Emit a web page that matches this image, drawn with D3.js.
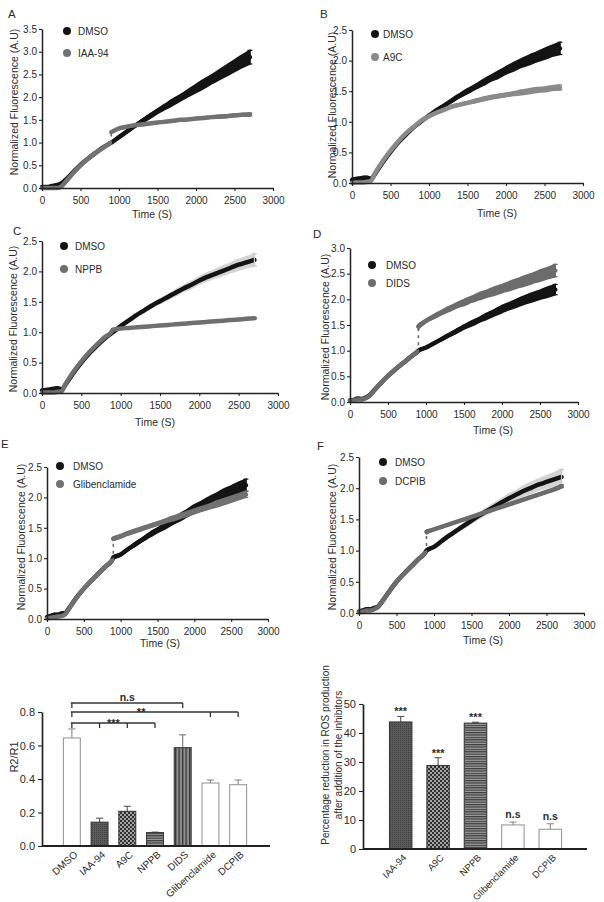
<!DOCTYPE html>
<html><head><meta charset="utf-8">
<script src="https://cdn.jsdelivr.net/npm/d3@7"></script>
<style>
body{margin:0;background:#fff;}
svg text{font-family:"Liberation Sans",Arial,sans-serif;fill:#2b2b2b;}
</style></head><body>
<svg id="fig" width="604" height="902"></svg>
<script>
// ---------- DATA ----------
const timeS = [0,50,100,150,200,250,300,400,500,600,700,800,880,900,1000,1100,1200,1300,1400,1500,1600,1700,1800,1900,2000,2100,2200,2300,2400,2500,2600,2700];
const additionTime = 900;
const xTickValues = [0,500,1000,1500,2000,2500,3000];

// Panel A
const dmsoA    = [0.02,0.02,0.03,0.05,0.07,0.10,0.17,0.34,0.51,0.65,0.78,0.90,0.98,1.00,1.12,1.24,1.36,1.47,1.58,1.69,1.79,1.89,1.99,2.09,2.19,2.29,2.39,2.49,2.59,2.69,2.79,2.88];
const dmsoErrA = [0.01,0.01,0.01,0.01,0.01,0.01,0.01,0.01,0.01,0.01,0.01,0.01,0.01,0.01,0.02,0.03,0.03,0.04,0.05,0.05,0.06,0.07,0.07,0.08,0.09,0.10,0.10,0.11,0.12,0.13,0.14,0.15];
const iaaA     = [0.00,0.00,0.00,0.00,0.00,0.03,0.12,0.32,0.50,0.65,0.78,0.89,0.98,1.23,1.31,1.35,1.38,1.40,1.42,1.44,1.46,1.48,1.50,1.51,1.53,1.54,1.56,1.57,1.58,1.60,1.61,1.62];
const iaaErrA  = [0.01,0.01,0.01,0.01,0.01,0.01,0.01,0.01,0.01,0.01,0.01,0.01,0.01,0.02,0.02,0.02,0.02,0.02,0.02,0.02,0.02,0.02,0.02,0.02,0.02,0.02,0.02,0.03,0.03,0.03,0.03,0.03];
// Panel B
const dmsoB    = [0.05,0.06,0.07,0.08,0.08,0.07,0.15,0.34,0.51,0.66,0.79,0.91,0.99,1.01,1.10,1.19,1.27,1.35,1.43,1.50,1.57,1.64,1.71,1.77,1.84,1.90,1.96,2.01,2.06,2.11,2.16,2.20];
const dmsoErrB = [0.03,0.03,0.03,0.03,0.03,0.02,0.01,0.01,0.01,0.01,0.01,0.01,0.01,0.01,0.01,0.02,0.02,0.03,0.03,0.04,0.04,0.05,0.05,0.06,0.06,0.07,0.07,0.08,0.08,0.09,0.09,0.10];
const a9cB     = [0.00,0.01,0.01,0.01,0.02,0.04,0.16,0.36,0.53,0.68,0.81,0.92,1.00,1.02,1.09,1.15,1.20,1.25,1.28,1.31,1.34,1.37,1.40,1.42,1.44,1.46,1.48,1.50,1.52,1.53,1.55,1.56];
const a9cErrB  = [0.01,0.01,0.01,0.01,0.01,0.01,0.01,0.01,0.01,0.01,0.01,0.01,0.01,0.01,0.01,0.02,0.02,0.02,0.02,0.02,0.03,0.03,0.03,0.03,0.03,0.03,0.04,0.04,0.04,0.04,0.04,0.04];
// Panel C
const dmsoC    = [0.04,0.05,0.06,0.07,0.08,0.06,0.14,0.33,0.50,0.65,0.78,0.90,0.98,1.00,1.10,1.19,1.28,1.36,1.44,1.51,1.58,1.65,1.72,1.78,1.85,1.91,1.96,2.01,2.06,2.11,2.15,2.19];
const dmsoErrC = [0.02,0.02,0.02,0.02,0.02,0.01,0.01,0.01,0.01,0.01,0.01,0.01,0.01,0.01,0.01,0.02,0.02,0.03,0.03,0.04,0.04,0.05,0.05,0.06,0.06,0.07,0.07,0.08,0.08,0.09,0.09,0.10];
const nppbC    = [0.01,0.01,0.01,0.01,0.02,0.03,0.15,0.35,0.52,0.67,0.80,0.92,1.00,1.04,1.06,1.07,1.08,1.09,1.10,1.11,1.12,1.13,1.14,1.15,1.16,1.17,1.18,1.19,1.20,1.21,1.22,1.23];
const nppbErrC = [0.01,0.01,0.01,0.01,0.01,0.01,0.01,0.01,0.01,0.01,0.01,0.01,0.01,0.01,0.01,0.01,0.01,0.01,0.01,0.01,0.01,0.01,0.01,0.01,0.01,0.01,0.01,0.01,0.01,0.01,0.01,0.01];
// Panel D
const dmsoD    = [0.03,0.04,0.07,0.06,0.08,0.12,0.20,0.36,0.51,0.64,0.76,0.88,0.97,1.00,1.06,1.14,1.22,1.30,1.38,1.46,1.53,1.60,1.67,1.74,1.81,1.87,1.93,1.99,2.04,2.09,2.14,2.19];
const dmsoErrD = [0.02,0.02,0.02,0.02,0.02,0.01,0.01,0.01,0.01,0.01,0.01,0.01,0.01,0.02,0.02,0.02,0.03,0.03,0.04,0.04,0.05,0.05,0.06,0.06,0.07,0.07,0.08,0.08,0.09,0.09,0.10,0.10];
const didsD    = [0.02,0.03,0.05,0.05,0.07,0.11,0.19,0.36,0.51,0.64,0.76,0.88,0.97,1.47,1.58,1.66,1.74,1.81,1.88,1.94,2.00,2.06,2.11,2.16,2.21,2.26,2.31,2.36,2.41,2.46,2.51,2.56];
const didsErrD = [0.01,0.01,0.01,0.01,0.01,0.01,0.01,0.01,0.01,0.01,0.01,0.01,0.01,0.05,0.03,0.04,0.04,0.05,0.05,0.06,0.06,0.07,0.07,0.08,0.08,0.09,0.09,0.10,0.10,0.11,0.11,0.12];
// Panel E
const dmsoE    = [0.03,0.05,0.07,0.07,0.09,0.10,0.18,0.35,0.50,0.63,0.75,0.87,0.96,1.01,1.06,1.15,1.23,1.31,1.39,1.46,1.53,1.60,1.67,1.74,1.81,1.87,1.93,1.99,2.05,2.10,2.15,2.20];
const dmsoErrE = [0.02,0.02,0.02,0.02,0.02,0.01,0.01,0.01,0.01,0.01,0.01,0.01,0.01,0.03,0.02,0.02,0.03,0.03,0.04,0.04,0.05,0.05,0.06,0.06,0.07,0.07,0.08,0.08,0.09,0.09,0.10,0.10];
const glibE    = [0.01,0.02,0.03,0.04,0.05,0.08,0.17,0.35,0.50,0.63,0.75,0.87,0.96,1.32,1.36,1.41,1.45,1.49,1.53,1.57,1.61,1.65,1.69,1.73,1.77,1.81,1.85,1.89,1.93,1.97,2.01,2.05];
const glibErrE = [0.01,0.01,0.01,0.01,0.01,0.01,0.01,0.01,0.01,0.01,0.01,0.01,0.01,0.03,0.03,0.03,0.03,0.03,0.03,0.03,0.03,0.04,0.04,0.04,0.04,0.04,0.04,0.05,0.05,0.05,0.05,0.05];
// Panel F
const dmsoF    = [0.02,0.04,0.06,0.06,0.08,0.10,0.17,0.34,0.50,0.63,0.75,0.87,0.96,1.00,1.06,1.15,1.24,1.32,1.40,1.48,1.56,1.63,1.70,1.77,1.84,1.90,1.96,2.01,2.06,2.10,2.14,2.18];
const dmsoErrF = [0.02,0.02,0.02,0.02,0.02,0.01,0.01,0.01,0.01,0.01,0.01,0.01,0.01,0.02,0.02,0.02,0.03,0.03,0.04,0.04,0.05,0.05,0.06,0.06,0.07,0.07,0.08,0.09,0.09,0.10,0.11,0.12];
const dcpibF   = [0.01,0.02,0.04,0.04,0.06,0.09,0.17,0.34,0.50,0.63,0.75,0.87,0.96,1.30,1.34,1.38,1.42,1.46,1.50,1.54,1.58,1.62,1.66,1.70,1.74,1.78,1.82,1.86,1.90,1.94,1.98,2.03];
const dcpibErrF= [0.01,0.01,0.01,0.01,0.01,0.01,0.01,0.01,0.01,0.01,0.01,0.01,0.01,0.03,0.01,0.01,0.01,0.01,0.01,0.01,0.01,0.01,0.01,0.02,0.02,0.02,0.02,0.02,0.02,0.02,0.02,0.02];

const panelLetters  = ['A','B','C','D','E','F'];
const inhibitorNames= ['IAA-94','A9C','NPPB','DIDS','Glibenclamide','DCPIB'];
const yMaxValues    = [3.5,2.5,2.5,3.0,2.5,2.5];

// Bar chart: R2/R1
const ratioCats = ['DMSO','IAA-94','A9C','NPPB','DIDS','Glibenclamide','DCPIB'];
const ratioMean = [0.645,0.142,0.207,0.080,0.587,0.376,0.366];
const ratioSem  = [0.054,0.024,0.030,0.003,0.077,0.018,0.028];
const ratioTicks= [0.0,0.2,0.4,0.6,0.8];
const ratioComparisons = [
  {label:'n.s', from:'DMSO', to:['DIDS'], labelBetween:['DMSO','DIDS']},
  {label:'**',  from:'DMSO', to:['Glibenclamide','DCPIB'], labelBetween:['DMSO','Glibenclamide']},
  {label:'***', from:'DMSO', to:['IAA-94','A9C','NPPB'], labelBetween:['DMSO','NPPB']}
];

// Bar chart: % reduction
const reductionCats = ['IAA-94','A9C','NPPB','Glibenclamide','DCPIB'];
const reductionMean = [43.8,28.8,43.4,8.3,6.8];
const reductionSem  = [1.9,2.7,0.3,1.0,1.9];
const reductionSig  = ['***','***','***','n.s','n.s'];
const reductionTicks= [0,10,20,30,40,50];

// ---------- STYLE / LAYOUT ----------
const svg = d3.select('#fig');
const defs = svg.append('defs');
function pattern(id,w,h,bg,rects){
  const p = defs.append('pattern').attr('id',id).attr('width',w).attr('height',h).attr('patternUnits','userSpaceOnUse');
  p.append('rect').attr('width',w).attr('height',h).attr('fill',bg);
  rects.forEach(r=>p.append('rect').attr('x',r[0]).attr('y',r[1]).attr('width',r[2]).attr('height',r[3]).attr('fill',r[4]));
}
pattern('pIAA',2,2,'#5c5c5c',[[0,0,1,1,'#3e3e3e']]);
pattern('pA9C',4,4,'#a4a4a4',[[0,0,2,2,'#2f2f2f'],[2,2,2,2,'#2f2f2f']]);
pattern('pNPPB',3,2.4,'#a0a0a0',[[0,0,3,1.2,'#3a3a3a']]);
pattern('pDIDS',3.5,4,'#909090',[[0,0,1.3,4,'#333']]);
const barStyle = {
  'DMSO':{fill:'#fff',stroke:'#9a9a9a',err:'#8a8a8a'},
  'IAA-94':{fill:'url(#pIAA)',stroke:'#3a3a3a',err:'#555'},
  'A9C':{fill:'url(#pA9C)',stroke:'#3a3a3a',err:'#555'},
  'NPPB':{fill:'url(#pNPPB)',stroke:'#3a3a3a',err:'#555'},
  'DIDS':{fill:'url(#pDIDS)',stroke:'#3a3a3a',err:'#777'},
  'Glibenclamide':{fill:'#fff',stroke:'#9a9a9a',err:'#8a8a8a'},
  'DCPIB':{fill:'#fff',stroke:'#9a9a9a',err:'#8a8a8a'}
};

const series = [
  [dmsoA,dmsoErrA,iaaA,iaaErrA],
  [dmsoB,dmsoErrB,a9cB,a9cErrB],
  [dmsoC,dmsoErrC,nppbC,nppbErrC],
  [dmsoD,dmsoErrD,didsD,didsErrD],
  [dmsoE,dmsoErrE,glibE,glibErrE],
  [dmsoF,dmsoErrF,dcpibF,dcpibErrF]
];
const layouts = [
  {x0:42,x1:273,y0:188,yT:29, letter:[8,18],   leg:[67,31,53],  legTx:78,  yl:[14,102], xl:[152,218], inhCol:'#727272', band:'solid', jump:true},
  {x0:352,x1:583,y0:183,yT:30,letter:[320,18], leg:[375,34,57], legTx:383, yl:[332,105], xl:[497,217], inhCol:'#8a8a8a', band:'solid', jump:false},
  {x0:42,x1:278,y0:393,yT:241,letter:[13,235], leg:[64,246,269],legTx:75,  yl:[13,319], xl:[155,426], inhCol:'#6f6f6f', band:'light', jump:false},
  {x0:350,x1:578,y0:402,yT:248,letter:[313,238],leg:[372,265,283],legTx:386,yl:[325,327],xl:[493,434], inhCol:'#6c6c6c', band:'solid', jump:true},
  {x0:47,x1:268,y0:619,yT:467,letter:[1,448],  leg:[60,466,484],legTx:73,  yl:[21,537], xl:[160,647], inhCol:'#717171', band:'solid', jump:true},
  {x0:359,x1:584,y0:613,yT:457,letter:[317,450],leg:[383,462,481],legTx:395,yl:[332,537],xl:[483,644], inhCol:'#6c6c6c', band:'light', jump:true}
];
const dmsoCol = '#141414';
const axisCol = '#222';

function styleAxis(sel, fs){
  sel.select('.domain').attr('stroke',axisCol).attr('stroke-width',1.5);
  sel.selectAll('.tick line').attr('stroke',axisCol).attr('stroke-width',1.1);
  sel.selectAll('.tick text').attr('font-size',fs).attr('fill','#333').attr('font-family','"Liberation Sans",Arial,sans-serif');
}

panelLetters.forEach((letter,pi)=>{
  const L = layouts[pi];
  const [dv,de,iv,ie] = series[pi];
  const x = d3.scaleLinear().domain([0,3000]).range([L.x0,L.x1]);
  const y = d3.scaleLinear().domain([0,yMaxValues[pi]]).range([L.y0,L.yT]);
  const g = svg.append('g');
  const jIdx = timeS.indexOf(additionTime);
  const idxAll = d3.range(timeS.length);
  const area = (v,e,idx)=>d3.area().x(i=>x(timeS[i])).y0(i=>y(v[i]-e[i])).y1(i=>y(v[i]+e[i])).curve(d3.curveMonotoneX)(idx);
  const line = (v,idx)=>d3.line().x(i=>x(timeS[i])).y(i=>y(v[i])).curve(d3.curveMonotoneX)(idx);
  function drawSeries(v,e,col,bandCol,split){
    const parts = split ? [idxAll.slice(0,jIdx), idxAll.slice(jIdx)] : [idxAll];
    parts.forEach(idx=>g.append('path').attr('d',area(v,e,idx)).attr('fill',bandCol).attr('stroke',bandCol).attr('stroke-width',1.5));
    parts.forEach(idx=>g.append('path').attr('d',line(v,idx)).attr('fill','none').attr('stroke',col).attr('stroke-width',4.5).attr('stroke-linecap','round').attr('stroke-linejoin','round'));
    if(split){
      // sparse transition points at the moment of inhibitor addition
      const xa = x(timeS[jIdx]);
      g.append('line').attr('x1',xa).attr('x2',xa).attr('y1',y(v[jIdx-1])).attr('y2',y(v[jIdx])).attr('stroke',col).attr('stroke-width',1.6).attr('stroke-dasharray','3,4');
    }
    const n = timeS.length-1, ex = x(timeS[n]);
    const eb = g.append('g').attr('stroke',bandCol==='#d4d4d4'?'#c8c8c8':col).attr('stroke-width',1.2);
    eb.append('line').attr('x1',ex).attr('x2',ex).attr('y1',y(v[n]-e[n])).attr('y2',y(v[n]+e[n]));
    [v[n]-e[n],v[n]+e[n]].forEach(val=>eb.append('line').attr('x1',ex-2.5).attr('x2',ex+2.5).attr('y1',y(val)).attr('y2',y(val)));
  }
  drawSeries(dv,de,dmsoCol,L.band==='light'?'#d4d4d4':dmsoCol,false);
  drawSeries(iv,ie,L.inhCol,L.inhCol,L.jump);

  const yTicks = d3.range(0,yMaxValues[pi]+0.001,0.5);
  g.append('g').attr('transform',`translate(0,${L.y0})`)
    .call(d3.axisBottom(x).tickValues(xTickValues).tickSize(3).tickSizeOuter(0).tickPadding(6).tickFormat(d3.format('d')))
    .call(s=>styleAxis(s,10));
  g.append('g').attr('transform',`translate(${L.x0},0)`)
    .call(d3.axisLeft(y).tickValues(yTicks).tickSize(3).tickSizeOuter(0).tickPadding(2).tickFormat(d3.format('.1f')))
    .call(s=>styleAxis(s,10));

  g.append('text').attr('x',L.letter[0]).attr('y',L.letter[1]).attr('font-size',11.5).text(letter);
  g.append('text').attr('x',L.xl[0]).attr('y',L.xl[1]).attr('text-anchor','middle').attr('font-size',10.5).text('Time (S)');
  g.append('text').attr('transform',`translate(${L.yl[0]},${L.yl[1]}) rotate(-90)`).attr('text-anchor','middle').attr('dy','0.35em').attr('font-size',10.5).text('Normalized Fluorescence (A.U)');
  [['DMSO',dmsoCol,L.leg[1]],[inhibitorNames[pi],L.inhCol,L.leg[2]]].forEach(([name,col,ly])=>{
    g.append('circle').attr('cx',L.leg[0]).attr('cy',ly).attr('r',4).attr('fill',col);
    g.append('text').attr('x',L.legTx).attr('y',ly).attr('dy','0.35em').attr('font-size',10).text(name);
  });
});

// ---------- Bar chart G: R2/R1 ----------
(function(){
  const gx0=42, gx1=270, gy0=846, gyT=712;
  const x = d3.scaleBand().domain(ratioCats).range([58,252]).paddingInner(0.39).paddingOuter(0.195);
  const y = d3.scaleLinear().domain([0,0.8]).range([gy0,gyT]);
  const g = svg.append('g');
  ratioCats.forEach((c,i)=>{
    const st = barStyle[c];
    const cx = x(c)+x.bandwidth()/2;
    const top = y(ratioMean[i]+ratioSem[i]);
    g.append('line').attr('x1',cx).attr('x2',cx).attr('y1',y(ratioMean[i])).attr('y2',top).attr('stroke',st.err).attr('stroke-width',1.1);
    g.append('line').attr('x1',cx-3.5).attr('x2',cx+3.5).attr('y1',top).attr('y2',top).attr('stroke',st.err).attr('stroke-width',1.1);
    g.append('rect').attr('x',x(c)).attr('width',x.bandwidth()).attr('y',y(ratioMean[i])).attr('height',gy0-y(ratioMean[i]))
      .attr('fill',st.fill).attr('stroke',st.stroke).attr('stroke-width',1.1);
    g.append('text').attr('transform',`translate(${cx+4},${gy0+7}) rotate(-42)`).attr('text-anchor','end').attr('dy','0.35em')
      .attr('font-size',10).text(c);
  });
  g.append('g').attr('transform',`translate(${gx0},0)`)
    .call(d3.axisLeft(y).tickValues(ratioTicks).tickSize(4).tickSizeOuter(0).tickPadding(3).tickFormat(d3.format('.1f')))
    .call(s=>styleAxis(s,11));
  g.select('.domain').attr('stroke-width',1.7);
  g.append('line').attr('x1',gx0).attr('x2',gx1).attr('y1',gy0).attr('y2',gy0).attr('stroke',axisCol).attr('stroke-width',1.8);
  g.append('text').attr('transform',`translate(14,757) rotate(-90)`).attr('text-anchor','middle').attr('dy','0.35em').attr('font-size',11).text('R2/R1');
  const levels = [703,712,723];
  ratioComparisons.forEach((cmp,k)=>{
    const by = levels[k];
    const cxOf = c=>x(c)+x.bandwidth()/2;
    const xs = [cmp.from].concat(cmp.to).map(cxOf);
    const bg = g.append('g').attr('stroke','#333').attr('stroke-width',1.3).attr('fill','none');
    bg.append('line').attr('x1',d3.min(xs)-1).attr('x2',d3.max(xs)).attr('y1',by).attr('y2',by);
    xs.forEach(xx=>bg.append('line').attr('x1',xx).attr('x2',xx).attr('y1',by).attr('y2',by+5));
    const lx = (cxOf(cmp.labelBetween[0])+cxOf(cmp.labelBetween[1]))/2;
    g.append('text').attr('x',lx).attr('y',cmp.label==='n.s'?by-2.5:by+3.5).attr('text-anchor','middle')
      .attr('font-size',cmp.label==='n.s'?10.5:11).attr('font-weight','bold').text(cmp.label);
  });
})();

// ---------- Bar chart H: % reduction ----------
(function(){
  const hx0=363, hx1=587, hy0=849, hyT=704;
  const x = d3.scaleBand().domain(reductionCats).range([382,569]).paddingInner(0.4).paddingOuter(0.2);
  const y = d3.scaleLinear().domain([0,50]).range([hy0,hyT]);
  const g = svg.append('g');
  reductionCats.forEach((c,i)=>{
    const st = barStyle[c];
    const cx = x(c)+x.bandwidth()/2;
    const top = y(reductionMean[i]+reductionSem[i]);
    g.append('line').attr('x1',cx).attr('x2',cx).attr('y1',y(reductionMean[i])).attr('y2',top).attr('stroke',st.err).attr('stroke-width',1.1);
    g.append('line').attr('x1',cx-3.5).attr('x2',cx+3.5).attr('y1',top).attr('y2',top).attr('stroke',st.err).attr('stroke-width',1.1);
    g.append('rect').attr('x',x(c)).attr('width',x.bandwidth()).attr('y',y(reductionMean[i])).attr('height',hy0-y(reductionMean[i]))
      .attr('fill',st.fill).attr('stroke',st.stroke).attr('stroke-width',1.1);
    const sig = reductionSig[i];
    g.append('text').attr('x',cx).attr('y',sig==='n.s'?top-4:top-1).attr('text-anchor','middle')
      .attr('font-size',sig==='n.s'?10.5:11).attr('font-weight','bold').text(sig);
    g.append('text').attr('transform',`translate(${cx+4},${hy0+7}) rotate(-45)`).attr('text-anchor','end').attr('dy','0.35em')
      .attr('font-size',9.5).text(c);
  });
  g.append('g').attr('transform',`translate(${hx0},0)`)
    .call(d3.axisLeft(y).tickValues(reductionTicks).tickSize(4).tickSizeOuter(0).tickPadding(3).tickFormat(d3.format('d')))
    .call(s=>styleAxis(s,11));
  g.select('.domain').attr('stroke-width',1.7);
  g.append('line').attr('x1',hx0).attr('x2',hx1).attr('y1',hy0).attr('y2',hy0).attr('stroke',axisCol).attr('stroke-width',1.8);
  g.append('text').attr('transform',`translate(325,755) rotate(-90)`).attr('text-anchor','middle').attr('dy','0.35em').attr('font-size',10).text('Percentage reduction in ROS production');
  g.append('text').attr('transform',`translate(338,755) rotate(-90)`).attr('text-anchor','middle').attr('dy','0.35em').attr('font-size',10).text('after addition of the inhibitors');
})();
</script>
</body></html>
